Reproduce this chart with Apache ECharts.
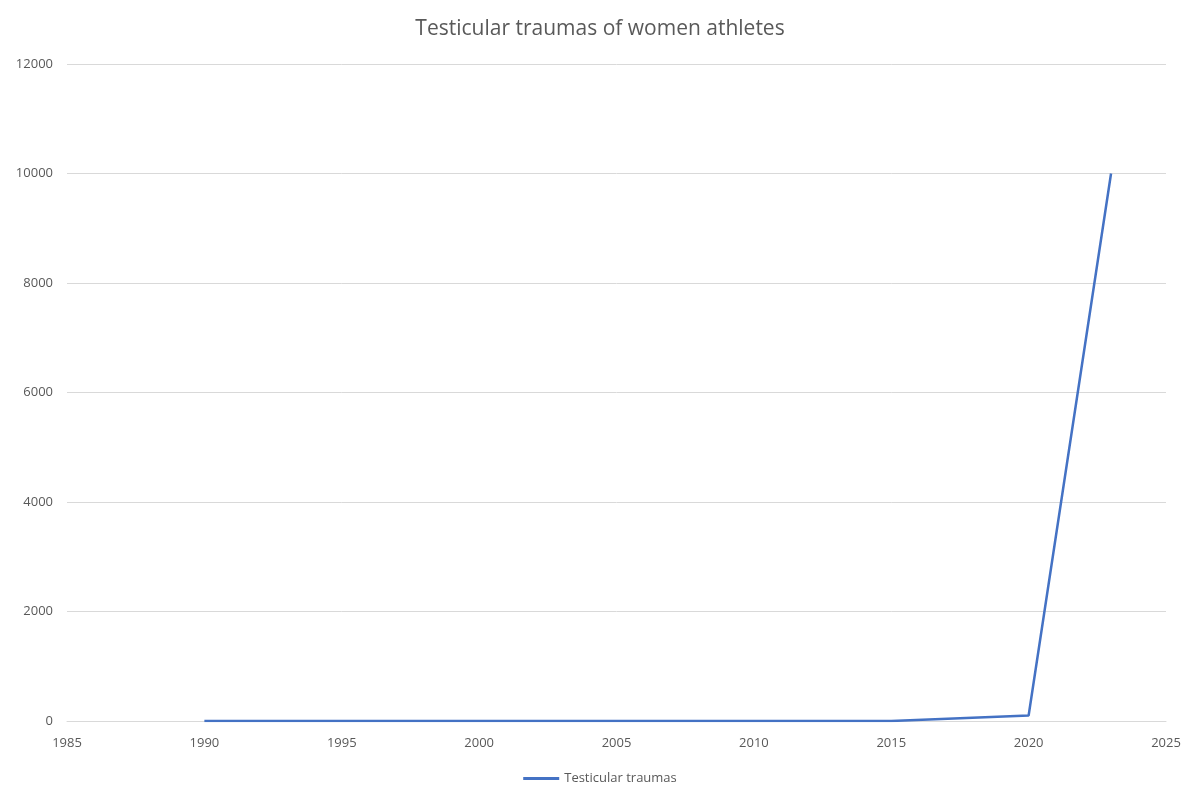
<!DOCTYPE html>
<html><head><meta charset="utf-8">
<script src="https://cdn.jsdelivr.net/npm/echarts@6/dist/echarts.min.js"></script>
<style>html,body{margin:0;padding:0;background:#fff}#c{width:1200px;height:802px}</style>
</head><body><div id="c"></div>
<script>
const years = [1990, 1995, 2000, 2005, 2010, 2015, 2020, 2023];
const traumas = [0, 0, 0, 0, 0, 0, 100, 10000];
const seriesName = 'Testicular traumas';
const chart = echarts.init(document.getElementById('c'));
chart.setOption({
  animation: false,
  title: {text: 'Testicular traumas of women athletes', left: 'center', top: 14,
    textStyle: {fontFamily: 'Open Sans', fontWeight: 'normal', fontSize: 21, color: '#595959'}},
  legend: {bottom: 12, left: 'center', itemWidth: 36, itemHeight: 3, icon: 'rect', itemGap: 4,
    textStyle: {fontFamily: 'Open Sans', fontSize: 13, color: '#595959'}},
  grid: {left: 67, right: 34, top: 64, bottom: 81},
  xAxis: {type: 'value', min: 1985, max: 2025, interval: 5,
    axisLine: {lineStyle: {color: '#d9d9d9'}}, axisTick: {show: false},
    splitLine: {show: false},
    axisLabel: {color: '#595959', fontFamily: 'Open Sans', fontSize: 13, margin: 16, formatter: v => String(v)}},
  yAxis: {type: 'value', min: 0, max: 12000, interval: 2000,
    axisLine: {show: false}, axisTick: {show: false},
    splitLine: {lineStyle: {color: '#d9d9d9'}},
    axisLabel: {color: '#595959', fontFamily: 'Open Sans', fontSize: 13, margin: 14, formatter: v => String(v)}},
  series: [{name: seriesName, type: 'line', showSymbol: false,
    data: years.map((y, i) => [y, traumas[i]]),
    lineStyle: {color: '#4472C4', width: 2.5}, itemStyle: {color: '#4472C4'}}]
});
</script></body></html>
